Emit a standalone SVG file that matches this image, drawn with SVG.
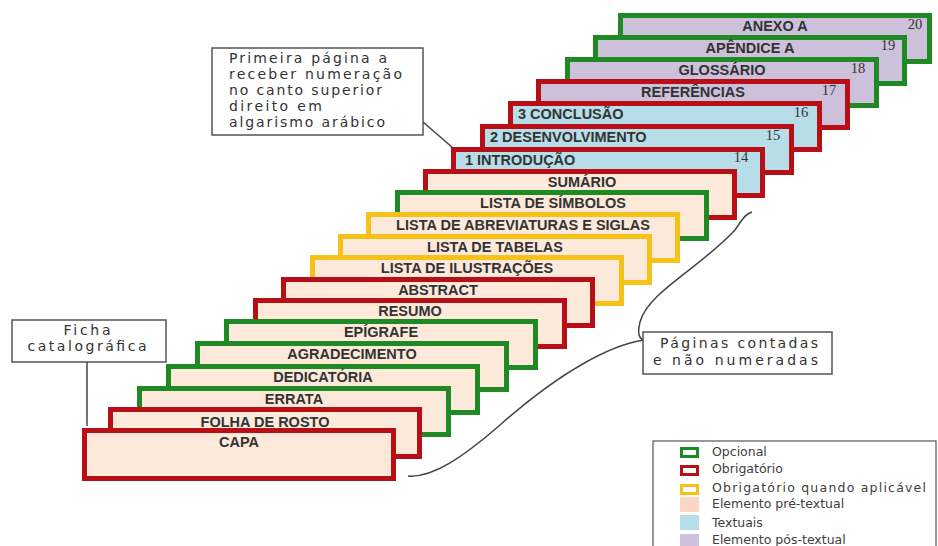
<svg xmlns="http://www.w3.org/2000/svg" width="938" height="546" viewBox="0 0 938 546">
<style>
.pg{stroke-width:5}
.pre{fill:#fde9d9}
.txt{fill:#b7dde8}
.pos{fill:#ccc0da}
.r{stroke:#b80f16}
.g{stroke:#1f8a24}
.y{stroke:#f6c21a}
.lbl{font-family:"Liberation Sans",Arial,sans-serif;font-weight:bold;font-size:14.5px;fill:#333;text-anchor:middle}
.lbl.l{text-anchor:start}
.num{font-family:"Liberation Serif","Times New Roman",serif;font-size:14.5px;fill:#333;text-anchor:middle}
.box{fill:#fff;stroke:#555;stroke-width:1.5}
.cl{font-family:"DejaVu Sans",Verdana,sans-serif;font-size:14px;fill:#333}
.lg{font-family:"DejaVu Sans",Verdana,sans-serif;font-size:12.5px;fill:#404040}
.conn{fill:none;stroke:#444;stroke-width:1.5}
</style>

<g id="page-anexo"><rect class="pg pos g" x="620.5" y="15.5" width="309" height="46"/><text class="lbl" x="775" y="31">ANEXO A</text><text class="num" x="915" y="29">20</text></g>
<g id="page-apendice"><rect class="pg pos g" x="595.5" y="37.5" width="309" height="46"/><text class="lbl" x="750" y="53">APÊNDICE A</text><text class="num" x="888" y="50">19</text></g>
<g id="page-glossario"><rect class="pg pos g" x="567.5" y="59.5" width="309" height="46"/><text class="lbl" x="722" y="75">GLOSSÁRIO</text><text class="num" x="858" y="73">18</text></g>
<g id="page-referencias"><rect class="pg pos r" x="538.5" y="81.5" width="309" height="46"/><text class="lbl" x="693" y="97">REFERÊNCIAS</text><text class="num" x="829" y="95">17</text></g>
<g id="page-conclusao"><rect class="pg txt r" x="510.5" y="103.5" width="309" height="46"/><text class="lbl l" x="518" y="119">3 CONCLUSÃO</text><text class="num" x="801" y="117">16</text></g>
<g id="page-desenvolvimento"><rect class="pg txt r" x="482.5" y="126.5" width="309" height="46"/><text class="lbl l" x="490" y="142">2 DESENVOLVIMENTO</text><text class="num" x="773" y="140">15</text></g>
<g id="page-introducao"><rect class="pg txt r" x="453.5" y="149.5" width="309" height="46"/><text class="lbl l" x="465" y="165">1 INTRODUÇÃO</text><text class="num" x="741" y="162">14</text></g>
<g id="page-sumario"><rect class="pg pre r" x="425.5" y="171.5" width="309" height="46"/><text class="lbl" x="582" y="187">SUMÁRIO</text></g>
<g id="page-simbolos"><rect class="pg pre g" x="397.5" y="192.5" width="309" height="46"/><text class="lbl" x="553" y="208">LISTA DE SÍMBOLOS</text></g>
<g id="page-abreviaturas"><rect class="pg pre y" x="368.5" y="214.5" width="309" height="46"/><text class="lbl" x="523" y="230">LISTA DE ABREVIATURAS E SIGLAS</text></g>
<g id="page-tabelas"><rect class="pg pre y" x="340.5" y="236.5" width="309" height="46"/><text class="lbl" x="495" y="252">LISTA DE TABELAS</text></g>
<g id="page-ilustracoes"><rect class="pg pre y" x="312.5" y="257.5" width="309" height="46"/><text class="lbl" x="467" y="273">LISTA DE ILUSTRAÇÕES</text></g>
<g id="page-abstract"><rect class="pg pre r" x="283.5" y="279.5" width="309" height="46"/><text class="lbl" x="438" y="295">ABSTRACT</text></g>
<g id="page-resumo"><rect class="pg pre r" x="255.5" y="300.5" width="309" height="46"/><text class="lbl" x="410" y="316">RESUMO</text></g>
<g id="page-epigrafe"><rect class="pg pre g" x="226.5" y="321.5" width="309" height="46"/><text class="lbl" x="381" y="337">EPÍGRAFE</text></g>
<g id="page-agradecimento"><rect class="pg pre g" x="197.5" y="343.5" width="309" height="46"/><text class="lbl" x="352" y="359">AGRADECIMENTO</text></g>
<g id="page-dedicatoria"><rect class="pg pre g" x="168.5" y="366.5" width="309" height="46"/><text class="lbl" x="323" y="382">DEDICATÓRIA</text></g>
<g id="page-errata"><rect class="pg pre g" x="139.5" y="388.5" width="309" height="46"/><text class="lbl" x="294" y="404">ERRATA</text></g>
<g id="page-folha-de-rosto"><rect class="pg pre r" x="110.5" y="409.5" width="309" height="47"/><text class="lbl" x="265" y="427">FOLHA DE ROSTO</text></g>
<g id="page-capa"><rect class="pg pre r" x="84.5" y="430.5" width="309" height="48"/><text class="lbl" x="239" y="447">CAPA</text></g>

<g id="connectors">
<line class="conn" x1="423" y1="122" x2="453" y2="148"/>
<line class="conn" x1="87" y1="354" x2="87" y2="426"/>
<path class="conn" d="M 752 212 C 745 214 742 220 735 230 C 700 268 648 292 640 322 Q 636 338 644 340"/>
<path class="conn" d="M 644 340 C 610 345 560 372 500 425 C 462 458 432 478 408 476"/>
</g>

<g id="callout-primeira">
<rect class="box" x="212" y="48" width="211" height="87"/>
<text class="cl" x="229" y="63" textLength="158" lengthAdjust="spacing">Primeira  página a</text>
<text class="cl" x="229" y="79" textLength="173" lengthAdjust="spacing">receber  numeração</text>
<text class="cl" x="229" y="95" textLength="153" lengthAdjust="spacing">no canto  superior</text>
<text class="cl" x="229" y="111" textLength="93" lengthAdjust="spacing">direito  em</text>
<text class="cl" x="229" y="127" textLength="156" lengthAdjust="spacing">algarismo arábico</text>
</g>

<g id="callout-ficha">
<rect class="box" x="12" y="320" width="154" height="42"/>
<text class="cl" x="87" y="335" text-anchor="middle" textLength="47" lengthAdjust="spacing">Ficha</text>
<text class="cl" x="87" y="351" text-anchor="middle" textLength="119" lengthAdjust="spacing">catalográfica</text>
</g>

<g id="callout-paginas">
<rect class="box" x="643" y="332" width="189" height="42"/>
<text class="cl" x="660" y="348" textLength="158" lengthAdjust="spacing">Páginas  contadas</text>
<text class="cl" x="653" y="365" textLength="165" lengthAdjust="spacing">e não numeradas</text>
</g>

<g id="legend">
<rect x="653" y="441" width="283" height="120" fill="#fff" stroke="#555" stroke-width="1.2"/>
<rect x="681.5" y="448.5" width="16" height="8" fill="#fff" stroke="#1f8a24" stroke-width="3"/>
<rect x="681.5" y="466.5" width="16" height="8" fill="#fff" stroke="#b80f16" stroke-width="3"/>
<rect x="681.5" y="485.5" width="16" height="8" fill="#fff" stroke="#f6c21a" stroke-width="3"/>
<rect x="680" y="497" width="19" height="15" fill="#fcd5c4"/>
<rect x="680" y="515" width="19" height="15" fill="#b7dde8"/>
<rect x="680" y="534" width="19" height="14" fill="#ccc0da"/>
<text class="lg" x="712" y="456">Opcional</text>
<text class="lg" x="712" y="473">Obrigatório</text>
<text class="lg" x="712" y="492" textLength="214" lengthAdjust="spacing">Obrigatório quando aplicável</text>
<text class="lg" x="712" y="508">Elemento pré-textual</text>
<text class="lg" x="712" y="527">Textuais</text>
<text class="lg" x="712" y="544">Elemento pós-textual</text>
</g>
</svg>
